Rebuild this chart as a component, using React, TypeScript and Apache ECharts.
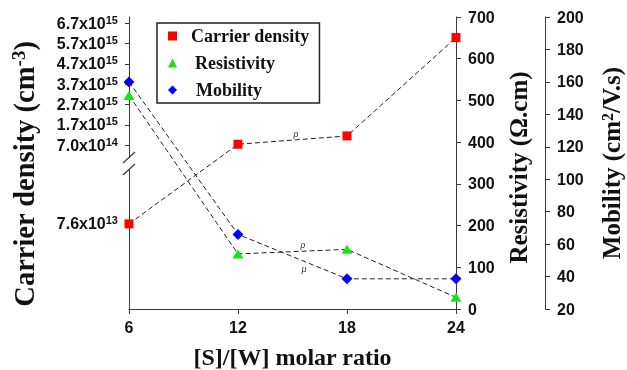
import React, { useEffect, useRef } from "react";
import * as echarts from "echarts";

// ---- data ----
const ratios = [6, 12, 18, 24];
const carrierDensity = [7.6e13, 7.4e14, 1.15e15, 6.0e15];
const resistivity = [512, 132, 143, 28];
const mobility = [160, 66, 38.6, 38.6];

const densityTicks = [7.6e13, 7.0e14, 1.7e15, 2.7e15, 3.7e15, 4.7e15, 5.7e15, 6.7e15];
const xTicks = { min: 6, max: 24, interval: 6 };
const resistivityRange = { min: 0, max: 700, interval: 100 };
const mobilityRange = { min: 20, max: 200, interval: 20 };

// broken left axis: upper linear segment and lower segment, mapped onto a 0..700 display scale
const UPPER_BASE = 7.0e14;
const UPPER_BASE_POS = 393;
const UPPER_STEP = 48.6; // per 1e15
const LOWER_REF = 7.6e13;
const LOWER_REF_POS = 204;
function densityToAxis(v: number) {
  return v >= UPPER_BASE
    ? UPPER_BASE_POS + ((v - UPPER_BASE) / 1e15) * UPPER_STEP
    : (v / LOWER_REF) * LOWER_REF_POS;
}
const densityTickPos = densityTicks.map(densityToAxis);

function densityLabel(pos: number) {
  let idx = 0;
  let best = Infinity;
  densityTickPos.forEach((p, i) => {
    const d = Math.abs(p - pos);
    if (d < best) {
      best = d;
      idx = i;
    }
  });
  const v = densityTicks[idx];
  const exp = Math.floor(Math.log10(v) + 1e-9);
  const mant = v / Math.pow(10, exp);
  return `{b|${mant.toFixed(1)}x10}{s|${exp}}`;
}

const SANS = "Liberation Sans";
const SERIF = "Liberation Serif";
const AXIS_COLOR = "#3a3a3a";
const TEXT_COLOR = "#111";

const tickLabel = {
  fontFamily: SANS,
  fontWeight: "bold" as const,
  fontSize: 16,
  color: TEXT_COLOR,
};

const dashed = { color: "#222", width: 1, type: [5, 3] as number[] };

export default function App() {
  const ref = useRef<HTMLDivElement>(null);
  useEffect(() => {
    document.body.style.margin = "0";
    document.body.style.overflow = "hidden";
    const chart = echarts.init(ref.current!, null, { renderer: "svg", width: 627, height: 370 });
    const option: any = {
      animation: false,
      grid: { left: 129, right: 171, top: 17, bottom: 61, containLabel: false, outerBoundsMode: "none" },
      legend: {
        orient: "vertical",
        left: 157,
        top: 23,
        padding: [4, 10, 4, 11],
        itemGap: 9,
        itemWidth: 9,
        itemHeight: 9,
        borderColor: "#222",
        borderWidth: 1.5,
        itemStyle: { borderWidth: 0 },
        textStyle: {
          fontFamily: SERIF,
          fontWeight: "bold",
          fontSize: 18,
          lineHeight: 18,
          color: TEXT_COLOR,
          padding: [0, 0, 0, 9],
        },
        data: [
          { name: "Carrier density", icon: "rect" },
          { name: "Resistivity", icon: "triangle", textStyle: { padding: [0, 0, 0, 13] } },
          { name: "Mobility", icon: "diamond", textStyle: { padding: [0, 0, 0, 14] } },
        ],
      },
      xAxis: [
        {
          type: "value",
          min: xTicks.min,
          max: xTicks.max,
          interval: xTicks.interval,
          name: "[S]/[W] molar ratio",
          nameLocation: "middle",
          nameGap: 36,
          nameTextStyle: { fontFamily: SERIF, fontWeight: "bold", fontSize: 24, color: TEXT_COLOR },
          axisLine: { show: true, lineStyle: { color: AXIS_COLOR, width: 1 } },
          axisTick: { show: true, length: 5, lineStyle: { color: AXIS_COLOR } },
          axisLabel: { ...tickLabel, margin: 10 },
          splitLine: { show: false },
        },
        {
          type: "value",
          position: "top",
          min: xTicks.min,
          max: xTicks.max,
          axisLine: { show: true, lineStyle: { color: AXIS_COLOR, width: 1 } },
          axisTick: { show: false },
          axisLabel: { show: false },
          splitLine: { show: false },
        },
      ],
      yAxis: [
        {
          type: "value",
          position: "left",
          min: 0,
          max: 700,
          name: "{t|Carrier density (cm}{s|-3}{t|)}",
          nameLocation: "middle",
          nameRotate: 90,
          nameGap: 89,
          nameTextStyle: {
            fontFamily: SERIF,
            fontWeight: "bold",
            fontSize: 28.5,
            color: TEXT_COLOR,
            padding: [0, 22, 0, 0],
            rich: {
              t: { fontFamily: SERIF, fontWeight: "bold", fontSize: 28.5, color: TEXT_COLOR, lineHeight: 31 },
              s: { fontFamily: SERIF, fontWeight: "bold", fontSize: 19, color: TEXT_COLOR, verticalAlign: "top", lineHeight: 19 },
            },
          },
          axisLine: { show: true, lineStyle: { color: AXIS_COLOR, width: 1 } },
          axisTick: { show: true, length: 4, customValues: densityTickPos, lineStyle: { color: AXIS_COLOR } },
          axisLabel: {
            customValues: densityTickPos,
            margin: 11,
            formatter: (v: number) => densityLabel(v),
            rich: {
              b: { ...tickLabel, lineHeight: 18 },
              s: { fontFamily: SANS, fontWeight: "bold", fontSize: 11, color: TEXT_COLOR, verticalAlign: "top", lineHeight: 11 },
            },
          },
          splitLine: { show: false },
        },
        {
          type: "value",
          position: "right",
          min: resistivityRange.min,
          max: resistivityRange.max,
          interval: resistivityRange.interval,
          name: "Resistivity (\u03A9.cm)",
          nameLocation: "middle",
          nameRotate: 90,
          nameGap: 48,
          nameTextStyle: {
            fontFamily: SERIF,
            fontWeight: "bold",
            fontSize: 25,
            color: TEXT_COLOR,
            padding: [0, 9, 0, 0],
          },
          axisLine: { show: true, lineStyle: { color: AXIS_COLOR, width: 1 } },
          axisTick: { show: true, length: 5, lineStyle: { color: AXIS_COLOR } },
          axisLabel: { ...tickLabel, margin: 12 },
          splitLine: { show: false },
        },
        {
          type: "value",
          position: "right",
          offset: 89,
          min: mobilityRange.min,
          max: mobilityRange.max,
          interval: mobilityRange.interval,
          name: "{t|Mobility (cm}{s|2}{t|/V.s)}",
          nameLocation: "middle",
          nameRotate: 90,
          nameGap: 54,
          nameTextStyle: {
            fontFamily: SERIF,
            fontWeight: "bold",
            fontSize: 25,
            color: TEXT_COLOR,
            rich: {
              t: { fontFamily: SERIF, fontWeight: "bold", fontSize: 25, color: TEXT_COLOR, lineHeight: 25 },
              s: { fontFamily: SERIF, fontWeight: "bold", fontSize: 16, color: TEXT_COLOR, verticalAlign: "top", lineHeight: 16 },
            },
          },
          axisLine: { show: true, lineStyle: { color: AXIS_COLOR, width: 1 } },
          axisTick: { show: true, length: 5, lineStyle: { color: AXIS_COLOR } },
          axisLabel: { ...tickLabel, margin: 12 },
          splitLine: { show: false },
        },
      ],
      series: [
        {
          name: "Carrier density",
          type: "line",
          yAxisIndex: 0,
          data: ratios.map((x, i) => [x, densityToAxis(carrierDensity[i])]),
          symbol: "rect",
          symbolSize: 9,
          itemStyle: { color: "#ff0000" },
          lineStyle: dashed,
          z: 3,
        },
        {
          name: "Resistivity",
          type: "line",
          yAxisIndex: 1,
          data: ratios.map((x, i) => [x, resistivity[i]]),
          symbol: "triangle",
          symbolSize: [11, 9],
          itemStyle: { color: "#14e614" },
          lineStyle: dashed,
          z: 3,
        },
        {
          name: "Mobility",
          type: "line",
          yAxisIndex: 2,
          data: ratios.map((x, i) => [x, mobility[i]]),
          symbol: "diamond",
          symbolSize: [11, 11],
          itemStyle: { color: "#0000ff" },
          lineStyle: dashed,
          z: 4,
        },
      ],
      graphic: [
        { type: "rect", shape: { x: 125, y: 158, width: 8, height: 12 }, style: { fill: "#fff" }, z: 10 },
        { type: "line", shape: { x1: 123, y1: 163, x2: 135, y2: 152 }, style: { stroke: AXIS_COLOR, lineWidth: 1.2 }, z: 11 },
        { type: "line", shape: { x1: 123, y1: 175, x2: 135, y2: 164 }, style: { stroke: AXIS_COLOR, lineWidth: 1.2 }, z: 11 },
        { type: "text", x: 296, y: 133, style: { text: "\u03C1", font: "italic 10px Liberation Serif", fill: "#333", align: "center", verticalAlign: "middle" }, z: 11 },
        { type: "text", x: 303, y: 244, style: { text: "\u03C1", font: "italic 10px Liberation Serif", fill: "#333", align: "center", verticalAlign: "middle" }, z: 11 },
        { type: "text", x: 304, y: 268, style: { text: "\u03BC", font: "italic 10px Liberation Serif", fill: "#333", align: "center", verticalAlign: "middle" }, z: 11 },
      ],
    };
    chart.setOption(option);
    return () => chart.dispose();
  }, []);
  return (
    <div style={{ position: "fixed", left: 0, top: 0, width: 627, height: 370, overflow: "hidden" }}>
      <div ref={ref} style={{ width: 627, height: 370 }} />
    </div>
  );
}
